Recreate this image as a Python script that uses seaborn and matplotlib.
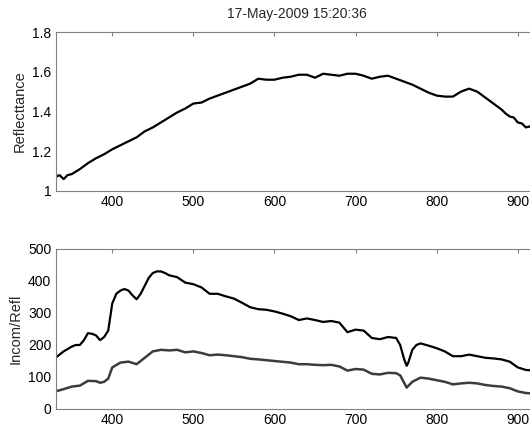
import matplotlib
matplotlib.use("Agg")
import matplotlib.pyplot as plt
import numpy as np
import pandas as pd
import seaborn as sns

# reflectance spectrum
refl_wl = [330, 335, 340, 345, 350, 360, 370, 380, 390, 400, 410, 420, 430, 440, 450,
           460, 470, 480, 490, 500, 510, 520, 530, 540, 550, 560, 570, 580, 590, 600,
           610, 620, 630, 640, 650, 660, 670, 680, 690, 700, 710, 720, 730, 740, 750,
           760, 770, 780, 790, 800, 810, 820, 830, 840, 850, 860, 870, 880, 885, 890,
           895, 900, 905, 910, 915, 920, 925]
refl_val = [1.07, 1.08, 1.06, 1.08, 1.085, 1.11, 1.14, 1.165, 1.185, 1.21, 1.23, 1.25, 1.27, 1.30, 1.32,
            1.345, 1.37, 1.395, 1.415, 1.44, 1.445, 1.465, 1.48, 1.495, 1.51, 1.525, 1.54, 1.565, 1.56, 1.56,
            1.57, 1.575, 1.585, 1.585, 1.57, 1.59, 1.585, 1.58, 1.59, 1.59, 1.58, 1.565, 1.575, 1.58, 1.565,
            1.55, 1.535, 1.515, 1.495, 1.48, 1.475, 1.475, 1.50, 1.515, 1.50, 1.47, 1.44, 1.41, 1.39, 1.375,
            1.37, 1.345, 1.34, 1.32, 1.325, 1.30, 1.29]

# incoming spectrum
incom_wl = [330, 340, 350, 355, 360, 365, 370, 375, 380, 385, 390, 395, 400, 405, 410, 415, 420, 425,
            430, 435, 440, 445, 450, 455, 460, 465, 470, 480, 490, 500, 505, 510, 520, 530, 540, 550,
            560, 570, 580, 590, 600, 610, 620, 630, 640, 650, 660, 670, 680, 690, 700, 710, 720, 730,
            740, 750, 755, 760, 763, 765, 770, 775, 780, 790, 800, 810, 820, 830, 840, 850, 860, 870,
            880, 890, 900, 910, 920, 925]
incom_val = [160, 180, 195, 200, 200, 215, 237, 235, 230, 215, 225, 245, 330, 360, 370, 375, 370, 355,
             343, 360, 385, 410, 425, 430, 430, 425, 418, 412, 395, 390, 385, 380, 360, 360, 352, 345,
             332, 318, 312, 310, 305, 298, 290, 278, 283, 278, 272, 275, 270, 240, 248, 245, 222, 218,
             225, 222, 200, 155, 135, 145, 185, 200, 205, 198, 190, 180, 165, 165, 170, 165, 160, 158,
             155, 148, 130, 122, 120, 120]

# reflected spectrum
out_wl = [330, 340, 350, 360, 370, 380, 385, 390, 395, 400, 410, 420, 430, 440, 450, 460, 470, 480,
          490, 500, 510, 520, 530, 540, 550, 560, 570, 580, 600, 620, 630, 640, 650, 660, 670, 680,
          690, 700, 710, 720, 730, 740, 750, 755, 763, 770, 780, 790, 800, 810, 820, 830, 840, 850,
          860, 870, 880, 890, 900, 910, 925]
out_val = [55, 62, 70, 73, 88, 87, 82, 85, 95, 130, 145, 148, 140, 160, 180, 185, 183, 185,
           177, 180, 175, 168, 170, 168, 165, 162, 157, 155, 150, 145, 140, 140, 138, 137, 138, 133,
           120, 125, 123, 110, 108, 113, 112, 105, 67, 85, 98, 95, 90, 85, 77, 80, 82, 80,
           75, 72, 70, 65, 55, 50, 47]

sns.set_style("white")
plt.rcParams['font.family'] = ['Liberation Sans', 'DejaVu Sans']

fig = plt.figure(figsize=(5.30, 4.29), dpi=100)
W, H = 530, 429
xmin, xmax = 330, 925
px_per_nm = 0.811
ax_w = (xmax - xmin) * px_per_nm

ax1 = fig.add_axes([55.5 / W, 1 - 191 / H, ax_w / W, 159 / H])
ax2 = fig.add_axes([55.5 / W, 1 - 409 / H, ax_w / W, 160 / H])

df1 = pd.DataFrame({"wl": refl_wl, "val": refl_val})
sns.lineplot(data=df1, x="wl", y="val", ax=ax1, color="black", linewidth=1.6)
ax1.set_ylim(1, 1.8)
ax1.set_yticks([1, 1.2, 1.4, 1.6, 1.8])
ax1.set_yticklabels(["1", "1.2", "1.4", "1.6", "1.8"])
ax1.set_ylabel("Reflecttance", fontsize=10.5)
ax1.set_title("17-May-2009 15:20:36", fontsize=10, pad=10)

df2 = pd.DataFrame({"wl": incom_wl, "val": incom_val})
df3 = pd.DataFrame({"wl": out_wl, "val": out_val})
sns.lineplot(data=df2, x="wl", y="val", ax=ax2, color="black", linewidth=1.6)
sns.lineplot(data=df3, x="wl", y="val", ax=ax2, color="#3c3c3c", linewidth=1.8)
ax2.set_ylim(0, 500)
ax2.set_yticks([0, 100, 200, 300, 400, 500])
ax2.set_ylabel("Incom/Refl", fontsize=10.5)

for ax in (ax1, ax2):
    ax.set_xlim(xmin, xmax)
    ax.set_xticks([400, 500, 600, 700, 800, 900])
    ax.set_xlabel("")
    ax.tick_params(direction="in", length=3, labelsize=10, colors="black",
                   top=True, right=True, pad=3)
    for sp in ax.spines.values():
        sp.set_color("#808080")
        sp.set_linewidth(0.8)
    ax.tick_params(color="#808080")

fig.savefig("out.png", dpi=100)
